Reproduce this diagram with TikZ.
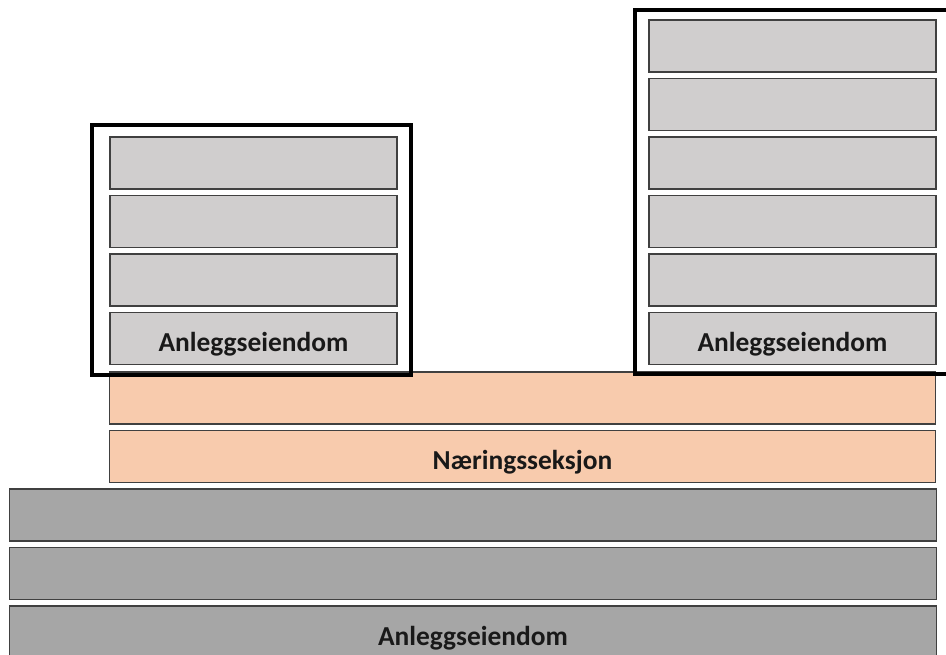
\documentclass[tikz,border=0pt]{standalone}
\usepackage{fontspec}
\setmainfont{Carlito}
\definecolor{floorgrey}{HTML}{D0CECE}
\definecolor{shoporange}{HTML}{F8CBAD}
\definecolor{basegrey}{HTML}{A6A6A6}
\definecolor{edgegrey}{HTML}{404040}

\begin{document}
\begin{tikzpicture}[x=0.025cm,y=-0.025cm,
  layer/.style={rectangle,draw=edgegrey,line width=0.8pt,inner sep=0pt,
                minimum height=1.3cm,font=\fontsize{19.5}{23}\selectfont\bfseries,
                text=black!90,text height=18.5pt,text depth=0pt},
  floorbox/.style={layer,fill=floorgrey,minimum width=7.175cm},
  shopbox/.style={layer,fill=shoporange,minimum width=20.625cm},
  basebox/.style={layer,fill=basegrey,minimum width=23.15cm},
  frame/.style={rectangle,draw=black,line width=2.9pt,inner sep=0pt}]

  \useasboundingbox (0,0) rectangle (946,655);
  \clip (0,0) rectangle (946,655);
  \fill[white] (0,0) rectangle (946,655);

  % ===== base: anleggseiendom under ground =====
  \node[basebox] (base1) at (473,515) {};
  \node[basebox] (base2) at (473,573.5) {};
  \node[basebox] (base3) at (473,632) {Anleggseiendom};

  % ===== commercial section =====
  \node[shopbox] (shop1) at (522.5,398) {};
  \node[shopbox] (shop2) at (522.5,456.5) {Næringsseksjon};

  % ===== left building =====
  \node[floorbox] (left4) at (253.5,163) {};
  \node[floorbox] (left3) at (253.5,221.5) {};
  \node[floorbox] (left2) at (253.5,280) {};
  \node[floorbox] (left1) at (253.5,338.5) {Anleggseiendom};
  \node[frame,minimum width=7.975cm,minimum height=6.25cm] (leftframe) at (251.5,250) {};

  % ===== right building (frame runs off the right edge) =====
  \node[floorbox] (right6) at (792.5,46) {};
  \node[floorbox] (right5) at (792.5,104.5) {};
  \node[floorbox] (right4) at (792.5,163) {};
  \node[floorbox] (right3) at (792.5,221.5) {};
  \node[floorbox] (right2) at (792.5,280) {};
  \node[floorbox] (right1) at (792.5,338.5) {Anleggseiendom};
  \node[frame,minimum width=10cm,minimum height=9.09cm] (rightframe) at (835,192.25) {};

\end{tikzpicture}
\end{document}
